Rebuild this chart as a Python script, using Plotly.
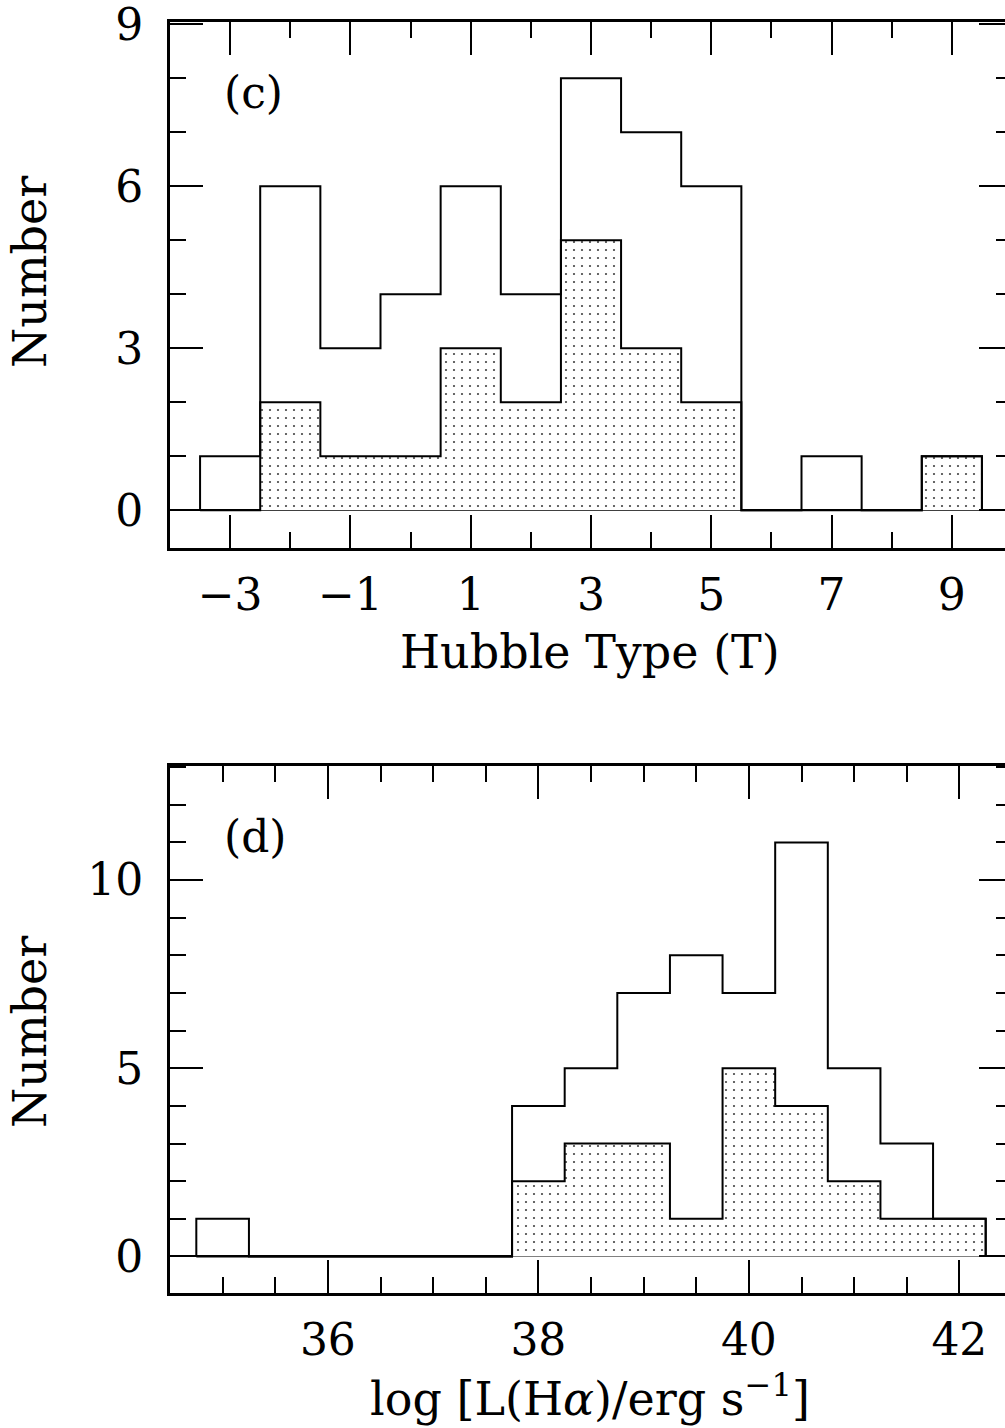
import plotly.graph_objects as go

# ---------------- data: panel (c) Hubble type ----------------
hubble_T = [-3, -2, -1, 0, 1, 2, 3, 4, 5, 6, 7, 8, 9]
hubble_all = [1, 6, 3, 4, 6, 4, 8, 7, 6, 0, 1, 0, 1]
hubble_sub = [0, 2, 1, 1, 3, 2, 5, 3, 2, 0, 0, 0, 1]
hubble_xticks = [-3, -1, 1, 3, 5, 7, 9]
hubble_yticks = [0, 3, 6, 9]

# ---------------- data: panel (d) log L(Halpha) ----------------
lha_center = [35.0, 35.5, 36.0, 36.5, 37.0, 37.5, 38.0, 38.5, 39.0, 39.5,
              40.0, 40.5, 41.0, 41.5, 42.0]
lha_all = [1, 0, 0, 0, 0, 0, 4, 5, 7, 8, 7, 11, 5, 3, 1]
lha_sub = [0, 0, 0, 0, 0, 0, 2, 3, 3, 1, 5, 4, 2, 1, 1]
lha_xticks = [36, 38, 40, 42]
lha_yticks = [0, 5, 10]

FONT = "DejaVu Serif"
W, H = 1012, 1428
L = 170
PW = W - L


def step(centers, vals):
    width = centers[1] - centers[0]
    left = [c - width / 2 for c in centers]
    xs = [left[0]] + left + [centers[-1] + width / 2]
    ys = [0] + list(vals) + [0]
    return xs, ys


fig = go.Figure()

for (cent, allv, subv, xa, ya) in [
    (hubble_T, hubble_all, hubble_sub, "x", "y"),
    (lha_center, lha_all, lha_sub, "x2", "y2"),
]:
    xs, ys = step(cent, subv)
    fig.add_trace(go.Scatter(
        x=xs, y=ys, mode="lines", xaxis=xa, yaxis=ya,
        line=dict(shape="hv", color="black", width=2),
        fill="tozeroy", fillcolor="white",
        fillpattern=dict(shape=".", fgcolor="#444444", bgcolor="white",
                         size=8, solidity=0.06, fillmode="replace"),
        hoverinfo="skip", showlegend=False))
    xs, ys = step(cent, allv)
    fig.add_trace(go.Scatter(
        x=xs, y=ys, mode="lines", xaxis=xa, yaxis=ya,
        line=dict(shape="hv", color="black", width=2),
        hoverinfo="skip", showlegend=False))

tickfont = dict(family=FONT, size=44, color="black")


def axis(**kw):
    d = dict(showline=True, linecolor="black", linewidth=3, mirror="allticks",
             ticks="inside", ticklen=33, tickwidth=2, tickcolor="black",
             showgrid=False, zeroline=False, tickfont=tickfont,
             tickmode="linear", fixedrange=True, ticklabeloverflow="allow",
             automargin=False)
    d.update(kw)
    return d


def ypx(p):
    return 1 - p / H


def xpx(p):
    return (p - L) / PW


minor_tick = dict(ticks="inside", ticklen=16, tickwidth=2, tickcolor="black",
                  showgrid=False)

fig.update_layout(
    width=W, height=H,
    margin=dict(l=L, r=0, t=0, b=0, autoexpand=False),
    paper_bgcolor="white", plot_bgcolor="white",
    showlegend=False,
    xaxis=axis(range=[-4, 10], domain=[0, 1], anchor="y",
               tick0=hubble_xticks[0], dtick=hubble_xticks[1] - hubble_xticks[0],
               ticklabelstandoff=6,
               minor=dict(minor_tick, dtick=1, tick0=0)),
    yaxis=axis(range=[-0.7, 9.04], domain=[ypx(548), ypx(22)], anchor="x",
               tick0=hubble_yticks[0], dtick=hubble_yticks[1] - hubble_yticks[0],
               ticklabelstandoff=15,
               zeroline=True, zerolinecolor="black", zerolinewidth=2,
               minor=dict(minor_tick, dtick=1, tick0=0)),
    xaxis2=axis(range=[34.5, 42.5], domain=[0, 1], anchor="y2",
                tick0=lha_xticks[0], dtick=lha_xticks[1] - lha_xticks[0],
                ticklabelstandoff=6,
                minor=dict(minor_tick, dtick=0.5, tick0=36)),
    yaxis2=axis(range=[-0.97, 13.03], domain=[ypx(1293), ypx(766)], anchor="x2",
                tick0=lha_yticks[0], dtick=lha_yticks[1] - lha_yticks[0],
                ticklabelstandoff=15,
                zeroline=True, zerolinecolor="black", zerolinewidth=2,
                minor=dict(minor_tick, dtick=1, tick0=0)),
)

ann_font = dict(family=FONT, size=44, color="black")
title_font = dict(family=FONT, size=46, color="black")
annotations = [
    dict(text="(c)", x=xpx(222), y=ypx(93), xanchor="left", yanchor="middle",
         font=ann_font),
    dict(text="(d)", x=xpx(222), y=ypx(836), xanchor="left", yanchor="middle",
         font=ann_font),
    dict(text="Number", x=xpx(30), y=ypx(272), textangle=-90,
         xanchor="center", yanchor="middle", font=title_font),
    dict(text="Number", x=xpx(30), y=ypx(1032), textangle=-90,
         xanchor="center", yanchor="middle", font=title_font),
    dict(text="Hubble Type (T)", x=xpx(590), y=ypx(652),
         xanchor="center", yanchor="middle", font=title_font),
    dict(text="log [L(H<i>α</i>)/erg s<sup>−1</sup>]", x=xpx(590), y=ypx(1396),
         xanchor="center", yanchor="middle", font=title_font),
]
for a in annotations:
    a.update(xref="paper", yref="paper", showarrow=False)
fig.update_layout(annotations=annotations)

post = ("document.body.style.margin='0';"
        "document.body.style.overflow='hidden';"
        "document.documentElement.style.overflow='hidden';")
fig.write_html("out.html", config={"displayModeBar": False}, post_script=post)
